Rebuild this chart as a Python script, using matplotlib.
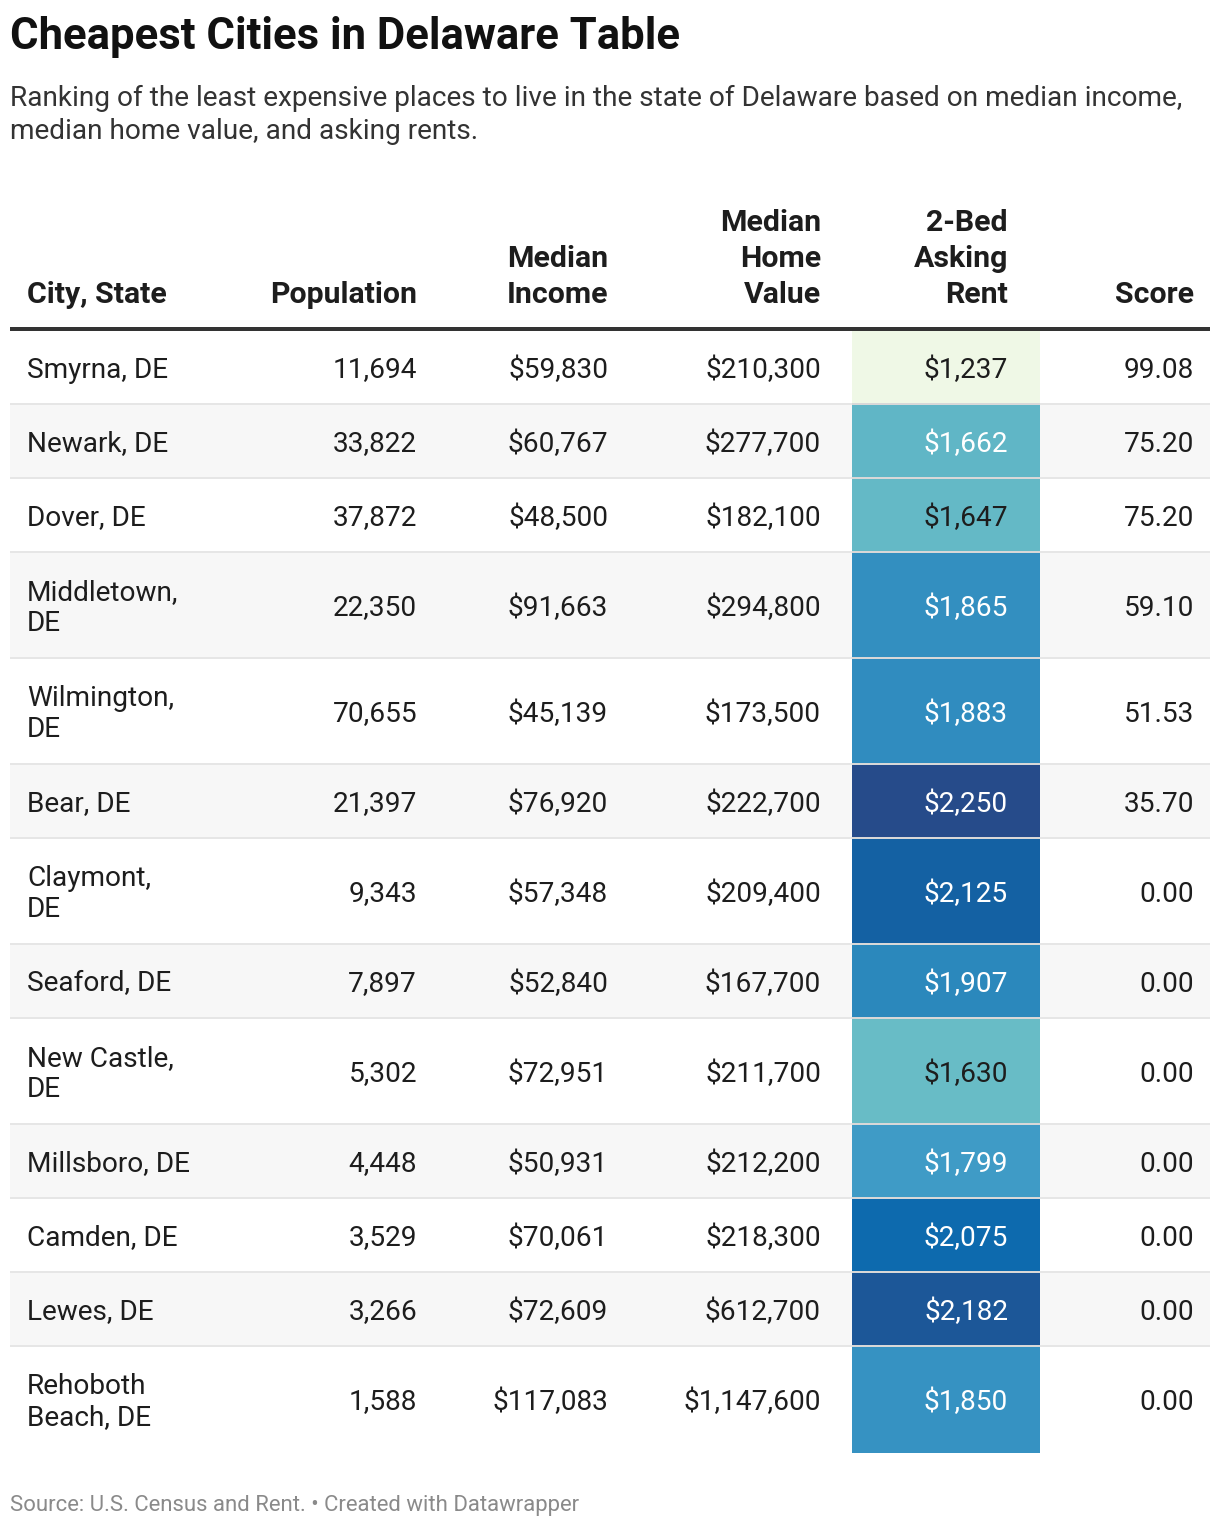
import matplotlib
matplotlib.use("Agg")
from matplotlib import pyplot as plt
from matplotlib.colors import LinearSegmentedColormap, Normalize
from matplotlib.patches import Rectangle

# table data
cities = ["Smyrna, DE", "Newark, DE", "Dover, DE", "Middletown,\nDE", "Wilmington,\nDE",
          "Bear, DE", "Claymont,\nDE", "Seaford, DE", "New Castle,\nDE", "Millsboro, DE",
          "Camden, DE", "Lewes, DE", "Rehoboth\nBeach, DE"]
population = [11694, 33822, 37872, 22350, 70655, 21397, 9343, 7897, 5302, 4448, 3529, 3266, 1588]
median_income = [59830, 60767, 48500, 91663, 45139, 76920, 57348, 52840, 72951, 50931, 70061, 72609, 117083]
median_home_value = [210300, 277700, 182100, 294800, 173500, 222700, 209400, 167700, 211700, 212200,
                     218300, 612700, 1147600]
rent_2bed = [1237, 1662, 1647, 1865, 1883, 2250, 2125, 1907, 1630, 1799, 2075, 2182, 1850]
score = [99.08, 75.20, 75.20, 59.10, 51.53, 35.70, 0.00, 0.00, 0.00, 0.00, 0.00, 0.00, 0.00]

headers = ["City, State", "Population", "Median\nIncome", "Median\nHome\nValue", "2-Bed\nAsking\nRent", "Score"]

title = "Cheapest Cities in Delaware Table"
subtitle = ("Ranking of the least expensive places to live in the state of Delaware based on median income,\n"
            "median home value, and asking rents.")
footer = "Source: U.S. Census and Rent. \u2022 Created with Datawrapper"

FONT = "Roboto"
TEXT = "#1d1d1d"
W, H = 1220, 1528

# gradient used on the rent column
cmap = LinearSegmentedColormap.from_list(
    "rent", [(0.0, "#eff8e6"), (0.388, "#68bcc6"), (0.555, "#3f9bc6"),
             (0.827, "#0d6aae"), (1.0, "#264b8a")])
norm = Normalize(vmin=min(rent_2bed), vmax=max(rent_2bed))

fig = plt.figure(figsize=(W / 100, H / 100), dpi=100)
ax = fig.add_axes([0, 0, 1, 1])
ax.set_xlim(0, W)
ax.set_ylim(H, 0)
ax.axis("off")

# title block
ax.text(10, 37, title, fontsize=31.4, fontweight="bold", family=FONT, color="#111111", va="center")
ax.text(10, 115, subtitle, fontsize=20.2, family=FONT, color="#333333", va="center", linespacing=1.32)

# column right edges (first column is left aligned)
left, right = 10, 1210
col_x = [27, 417, 608, 821, 1008, 1194]
rent_cell = (852, 1040)

# header, drawn bottom line first so all columns share a baseline
for x, h in zip(col_x, headers):
    lines = h.split("\n")[::-1]
    for k, line in enumerate(lines):
        ax.text(x, 295 - 36 * k, line, fontsize=21.8, fontweight="bold", family=FONT, color=TEXT,
                ha="left" if x == col_x[0] else "right", va="center")
ax.add_patch(Rectangle((left, 327), right - left, 4, color="#333333", lw=0))

# body rows
y = 331
n = len(cities)
for i in range(n):
    h = 106 if "\n" in cities[i] else 74
    if i % 2 == 1:
        ax.add_patch(Rectangle((left, y), right - left, h, color="#f7f7f7", lw=0))
    c = cmap(norm(rent_2bed[i]))
    ax.add_patch(Rectangle((rent_cell[0], y), rent_cell[1] - rent_cell[0], h, color=c, lw=0))
    if i < n - 1:
        ax.add_patch(Rectangle((left, y + h - 2), right - left, 2, color="#e6e6e6", lw=0))
        ax.add_patch(Rectangle((rent_cell[0], y + h - 2), rent_cell[1] - rent_cell[0], 2,
                               color="black", alpha=0.06, lw=0))
    yc = y + h / 2 + 2
    rent_color = TEXT if norm(rent_2bed[i]) < 0.41 else "white"
    cells = [cities[i], f"{population[i]:,}", f"${median_income[i]:,}", f"${median_home_value[i]:,}",
             f"${rent_2bed[i]:,}", f"{score[i]:.2f}"]
    for j, (x, s) in enumerate(zip(col_x, cells)):
        ax.text(x, yc, s, fontsize=20.2, family=FONT, va="center", linespacing=1.15,
                ha="left" if j == 0 else "right", color=rent_color if j == 4 else TEXT)
    y += h

ax.text(10, 1505, footer, fontsize=15.9, family=FONT, color="#8a8a8a", va="center")

fig.savefig("out.png", dpi=100)
